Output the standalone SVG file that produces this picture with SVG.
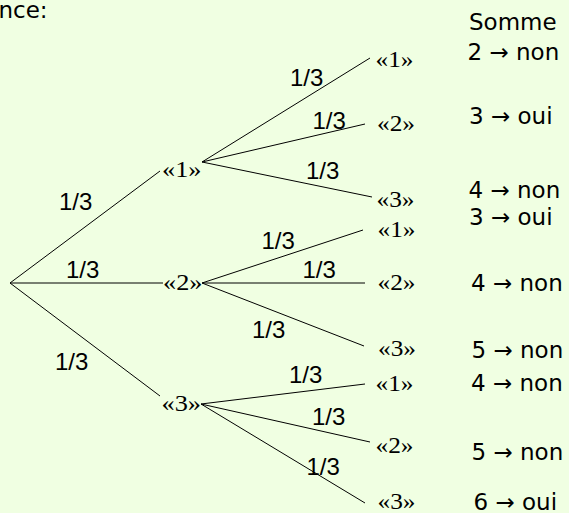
<svg xmlns="http://www.w3.org/2000/svg" width="569" height="513" viewBox="0 0 569 513">
<style>
.bg{fill:#f0ffe2}
.e{stroke:#000;stroke-width:1;fill:none}
.p{font-family:"Liberation Sans",Arial,sans-serif;font-size:24px;fill:#000}
.n{font-family:"Liberation Serif","Times New Roman",serif;font-size:23px;fill:#000}
.r{font-family:"DejaVu Sans",sans-serif;font-size:23px;fill:#000}
</style>
<rect class="bg" x="0" y="0" width="569" height="513"/>
<text class="r" x="-1.5" y="18">nce:</text>
<g id="connectors">
<line class="e" x1="10" y1="283" x2="160" y2="171"/>
<line class="e" x1="10" y1="283" x2="163" y2="283"/>
<line class="e" x1="10" y1="283" x2="160" y2="396"/>
<line class="e" x1="202" y1="162" x2="370" y2="58"/>
<line class="e" x1="202" y1="162" x2="365" y2="124"/>
<line class="e" x1="202" y1="162" x2="372" y2="197"/>
<line class="e" x1="202" y1="283" x2="363" y2="230"/>
<line class="e" x1="202" y1="283" x2="365" y2="283"/>
<line class="e" x1="202" y1="283" x2="364" y2="346"/>
<line class="e" x1="201" y1="404" x2="365" y2="384"/>
<line class="e" x1="201" y1="404" x2="370" y2="442"/>
<line class="e" x1="201" y1="404" x2="365" y2="503"/>
</g>
<g id="edge-labels">
<text class="p" x="59" y="210">1/3</text>
<text class="p" x="66" y="278">1/3</text>
<text class="p" x="55" y="370">1/3</text>
<text class="p" x="290" y="86">1/3</text>
<text class="p" x="312.5" y="129">1/3</text>
<text class="p" x="306" y="179">1/3</text>
<text class="p" x="261.5" y="249">1/3</text>
<text class="p" x="302.5" y="278">1/3</text>
<text class="p" x="252" y="338">1/3</text>
<text class="p" x="289" y="383">1/3</text>
<text class="p" x="312" y="425">1/3</text>
<text class="p" x="306.5" y="475">1/3</text>
</g>
<g id="n1"><text class="n" x="162" y="177" textLength="39.5" lengthAdjust="spacingAndGlyphs">«1»</text></g>
<g id="n2"><text class="n" x="163" y="290" textLength="39.5" lengthAdjust="spacingAndGlyphs">«2»</text></g>
<g id="n3"><text class="n" x="161.5" y="411" textLength="39.5" lengthAdjust="spacingAndGlyphs">«3»</text></g>
<g id="n11"><text class="n" x="375.5" y="67" textLength="38" lengthAdjust="spacingAndGlyphs">«1»</text></g>
<g id="n12"><text class="n" x="377" y="131" textLength="38" lengthAdjust="spacingAndGlyphs">«2»</text></g>
<g id="n13"><text class="n" x="376.5" y="207" textLength="38" lengthAdjust="spacingAndGlyphs">«3»</text></g>
<g id="n21"><text class="n" x="377.5" y="237" textLength="38" lengthAdjust="spacingAndGlyphs">«1»</text></g>
<g id="n22"><text class="n" x="377.5" y="290" textLength="38" lengthAdjust="spacingAndGlyphs">«2»</text></g>
<g id="n23"><text class="n" x="378" y="356" textLength="38" lengthAdjust="spacingAndGlyphs">«3»</text></g>
<g id="n31"><text class="n" x="375.5" y="391" textLength="38" lengthAdjust="spacingAndGlyphs">«1»</text></g>
<g id="n32"><text class="n" x="375.5" y="453" textLength="38" lengthAdjust="spacingAndGlyphs">«2»</text></g>
<g id="n33"><text class="n" x="377.5" y="509" textLength="38" lengthAdjust="spacingAndGlyphs">«3»</text></g>
<g id="sums">
<text class="r" x="469" y="30">Somme</text>
<text class="r" x="467.5" y="60">2 → non</text>
<text class="r" x="469" y="124">3 → oui</text>
<text class="r" x="468.5" y="198">4 → non</text>
<text class="r" x="469" y="225">3 → oui</text>
<text class="r" x="471" y="291">4 → non</text>
<text class="r" x="471.5" y="358">5 → non</text>
<text class="r" x="471" y="391">4 → non</text>
<text class="r" x="471.5" y="460">5 → non</text>
<text class="r" x="473.5" y="510">6 → oui</text>
</g>
</svg>
